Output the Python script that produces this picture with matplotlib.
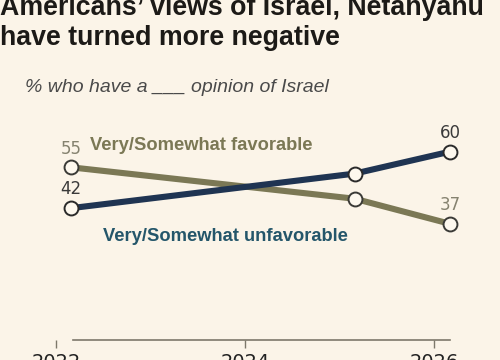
import matplotlib
matplotlib.use("Agg")
import matplotlib.pyplot as plt

# survey dates (decimal years) and shares
years = [2022.16, 2025.16, 2026.17]
favorable = [55, 45, 37]
unfavorable = [42, 53, 60]
tick_years = [2022, 2024, 2026]
tick_labels = ["2022", "2024", "2026"]

bg = "#fbf4e8"
fav_col = "#7b7855"
unfav_col = "#1f3452"

W, H = 500, 360
fig = plt.figure(figsize=(W / 100, H / 100), dpi=100, facecolor=bg)
ax = fig.add_axes([0, 20 / H, 1, 340 / H])
ax.set_facecolor(bg)
ax.set_xlim(2021.407, 2026.698)
ax.set_ylim(0, 108.3)

ax.plot(years, favorable, color=fav_col, lw=4.4, marker="o", ms=10,
        mfc="#fdf8ee", mec="#3a3a36", mew=1.4, zorder=3, clip_on=False)
ax.plot(years, unfavorable, color=unfav_col, lw=4.4, marker="o", ms=10,
        mfc="#fdf8ee", mec="#2a2a2a", mew=1.4, zorder=4, clip_on=False)

# end labels
for i in [0, -1]:
    ax.annotate(str(favorable[i]), (years[i], favorable[i]), xytext=(0, 7),
                textcoords="offset points", ha="center", va="bottom",
                fontsize=12, color="#85826f")
    ax.annotate(str(unfavorable[i]), (years[i], unfavorable[i]), xytext=(0, 7),
                textcoords="offset points", ha="center", va="bottom",
                fontsize=12, color="#3a3a3a")

ax.text(2022.36, 60.6, "Very/Somewhat favorable", fontsize=13.2,
        fontweight="bold", color=fav_col, ha="left", va="baseline",
        family="Liberation Sans")
ax.text(2022.497, 31.5, "Very/Somewhat unfavorable", fontsize=13.2,
        fontweight="bold", color="#24566a", ha="left", va="baseline",
        family="Liberation Sans")

for s in ["top", "left", "right"]:
    ax.spines[s].set_visible(False)
ax.spines["bottom"].set_bounds(years[0] + 0.02, years[-1])
ax.spines["bottom"].set_color("#7d786a")
ax.spines["bottom"].set_linewidth(1.2)
ax.set_yticks([])
ax.set_xticks(tick_years)
ax.set_xticklabels(tick_labels)
ax.tick_params(axis="x", length=6, width=1, color="#7d786a", labelsize=14,
               labelcolor="#222222", pad=3)

fig.text(0, 1 - 15 / H, "Americans\u2019 views of Israel, Netanyahu",
         fontsize=19.3, fontweight="bold", color="#1c1a17", va="baseline",
         family="Liberation Sans")
fig.text(0, 1 - 45 / H, "have turned more negative",
         fontsize=19.3, fontweight="bold", color="#1c1a17", va="baseline",
         family="Liberation Sans")
fig.text(25 / W, 1 - 92 / H, "% who have a ___ opinion of Israel",
         fontsize=14, style="italic", color="#4a4a4a", va="baseline",
         family="Liberation Sans")

fig.savefig("out.png", dpi=100, facecolor=bg)
